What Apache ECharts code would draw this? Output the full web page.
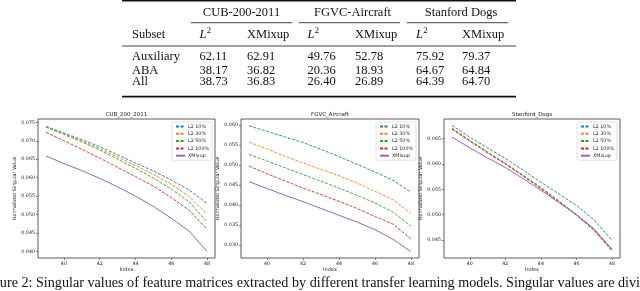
<!DOCTYPE html>
<html>
<head>
<meta charset="utf-8">
<script src="https://cdn.jsdelivr.net/npm/echarts@6/dist/echarts.min.js"></script>
<style>html,body{margin:0;padding:0;background:#fff}#c{width:640px;height:291px}</style>
</head>
<body>
<div id="c"></div>
<script>
// ---------- data ----------
const indexValues = [39, 40, 41, 42, 43, 44, 45, 46, 47, 48];
const seriesNames = ['L2 10%', 'L2 30%', 'L2 50%', 'L2 100%', 'XMixup'];
const chartTitles = ['CUB_200_2011', 'FGVC_Aircraft', 'Stanford_Dogs'];

const cubL2_10  = [0.0739, 0.0721, 0.0703, 0.0684, 0.0662, 0.0640, 0.0618, 0.0594, 0.0567, 0.0530];
const cubL2_30  = [0.0738, 0.0719, 0.0700, 0.0679, 0.0656, 0.0633, 0.0609, 0.0582, 0.0549, 0.0501];
const cubL2_50  = [0.0737, 0.0717, 0.0697, 0.0675, 0.0650, 0.0625, 0.0599, 0.0569, 0.0535, 0.0480];
const cubL2_100 = [0.0723, 0.0700, 0.0677, 0.0653, 0.0628, 0.0603, 0.0577, 0.0546, 0.0512, 0.0460];
const cubXMixup = [0.0659, 0.0638, 0.0619, 0.0598, 0.0575, 0.0550, 0.0522, 0.0490, 0.0455, 0.0400];

const fgvcL2_10  = [0.0598, 0.0584, 0.0570, 0.0556, 0.0539, 0.0521, 0.0502, 0.0482, 0.0462, 0.0432];
const fgvcL2_30  = [0.0557, 0.0540, 0.0522, 0.0505, 0.0489, 0.0473, 0.0455, 0.0434, 0.0413, 0.0379];
const fgvcL2_50  = [0.0526, 0.0510, 0.0493, 0.0476, 0.0459, 0.0442, 0.0424, 0.0405, 0.0382, 0.0347];
const fgvcL2_100 = [0.0497, 0.0478, 0.0460, 0.0442, 0.0426, 0.0409, 0.0391, 0.0371, 0.0352, 0.0315];
const fgvcXMixup = [0.0458, 0.0441, 0.0424, 0.0408, 0.0391, 0.0374, 0.0357, 0.0338, 0.0314, 0.0283];

const dogsL2_10  = [0.0676, 0.0653, 0.0632, 0.0611, 0.0588, 0.0564, 0.0541, 0.0518, 0.0489, 0.0449];
const dogsL2_30  = [0.0671, 0.0647, 0.0624, 0.0601, 0.0577, 0.0552, 0.0527, 0.0500, 0.0471, 0.0431];
const dogsL2_50  = [0.0670, 0.0646, 0.0623, 0.0601, 0.0578, 0.0554, 0.0527, 0.0499, 0.0470, 0.0430];
const dogsL2_100 = [0.0669, 0.0645, 0.0622, 0.0600, 0.0576, 0.0551, 0.0525, 0.0499, 0.0468, 0.0428];
const dogsXMixup = [0.0653, 0.0632, 0.0612, 0.0593, 0.0571, 0.0548, 0.0524, 0.0500, 0.0471, 0.0431];

const xTickValues = [40, 42, 44, 46, 48];
const cubYTicks  = [0.040, 0.045, 0.050, 0.055, 0.060, 0.065, 0.070, 0.075];
const fgvcYTicks = [0.030, 0.035, 0.040, 0.045, 0.050, 0.055, 0.060];
const dogsYTicks = [0.045, 0.050, 0.055, 0.060, 0.065];

// table
const tableDatasets = ['CUB-200-2011', 'FGVC-Aircraft', 'Stanford Dogs'];
const tableSubsets = ['Auxiliary', 'ABA', 'All'];
const tableValues = [
  ['62.11', '62.91', '49.76', '52.78', '75.92', '79.37'],
  ['38.17', '36.82', '20.36', '18.93', '64.67', '64.84'],
  ['38.73', '36.83', '26.40', '26.89', '64.39', '64.70']
];
const captionText = 'Figure 2: Singular values of feature matrices extracted by different transfer learning models. Singular values are divided by their sum.';

// ---------- layout ----------
const colors = ['#1f77b4', '#ff7f0e', '#2ca02c', '#d62728', '#9467bd'];
const grids = [
  {left: 38, top: 119, width: 177, height: 139},
  {left: 241, top: 119, width: 178, height: 139},
  {left: 444, top: 119, width: 176, height: 139}
];
const yRanges = [[0.0382, 0.0759], [0.0267, 0.0615], [0.0414, 0.0689]];
const allSeries = [
  [cubL2_10, cubL2_30, cubL2_50, cubL2_100, cubXMixup],
  [fgvcL2_10, fgvcL2_30, fgvcL2_50, fgvcL2_100, fgvcXMixup],
  [dogsL2_10, dogsL2_30, dogsL2_50, dogsL2_100, dogsXMixup]
];
const yTicks = [cubYTicks, fgvcYTicks, dogsYTicks];

const axisTextColor = '#222';
const chartFont = 'DejaVu Sans';

const option = {
  animation: false,
  backgroundColor: '#fff',
  grid: grids.map(g => Object.assign({show: true, borderColor: '#333', borderWidth: 0.8, backgroundColor: 'transparent'}, g)),
  title: chartTitles.map((t, i) => ({
    text: t,
    left: grids[i].left + grids[i].width / 2,
    top: 112,
    textAlign: 'center',
    padding: 0,
    textStyle: {fontSize: 5.5, fontWeight: 'normal', color: axisTextColor, fontFamily: chartFont}
  })),
  xAxis: grids.map((g, i) => ({
    type: 'value', gridIndex: i, min: 38.55, max: 48.45,
    name: 'Index', nameLocation: 'middle', nameGap: 9,
    nameTextStyle: {fontSize: 5, color: axisTextColor, fontFamily: chartFont},
    splitLine: {show: false},
    axisLine: {show: false},
    axisTick: {show: true, length: 2, inside: false, customValues: xTickValues, lineStyle: {color: '#333', width: 0.6}},
    axisLabel: {customValues: xTickValues, fontSize: 4.8, color: axisTextColor, margin: 3, fontFamily: chartFont}
  })),
  yAxis: grids.map((g, i) => ({
    type: 'value', gridIndex: i, min: yRanges[i][0], max: yRanges[i][1],
    name: 'Normalized Singular Value', nameLocation: 'middle', nameGap: 18,
    nameTextStyle: {fontSize: 4.8, color: axisTextColor, fontFamily: chartFont},
    splitLine: {show: false},
    axisLine: {show: false},
    axisTick: {show: true, length: 2, inside: false, customValues: yTicks[i], lineStyle: {color: '#333', width: 0.6}},
    axisLabel: {customValues: yTicks[i], fontSize: 4.8, color: axisTextColor, margin: 3, fontFamily: chartFont,
      formatter: v => v.toFixed(3)}
  })),
  legend: grids.map((g, i) => ({
    orient: 'vertical',
    right: 640 - (g.left + g.width) + 3,
    top: 122,
    itemWidth: 9, itemHeight: 5, itemGap: 2.3,
    padding: [2, 3, 2, 3],
    borderColor: '#ccc', borderWidth: 0.6, borderRadius: 1.5,
    backgroundColor: 'rgba(255,255,255,0.85)',
    itemStyle: {opacity: 0},
    textStyle: {fontSize: 4.8, color: axisTextColor, fontFamily: chartFont, padding: [0, 0, 0, -2]},
    data: seriesNames
  })),
  series: [],
  graphic: []
};

allSeries.forEach((group, ci) => {
  group.forEach((vals, si) => {
    option.series.push({
      type: 'line', name: seriesNames[si], xAxisIndex: ci, yAxisIndex: ci,
      symbol: 'none', silent: true,
      color: colors[si],
      lineStyle: {width: si === 4 ? 1 : 0.9, color: colors[si], type: si === 4 ? 'solid' : [3, 1.5]},
      data: indexValues.map((x, k) => [x, vals[k]])
    });
  });
});

// ---------- table (graphic) ----------
const serif = 'Liberation Serif';
const tFont = 12.5;
const tColor = '#111';
const g = option.graphic;
function txt(x, y, s, opts) {
  g.push({type: 'text', x: x, y: y, silent: true, style: Object.assign({
    text: s, fontFamily: serif, fontSize: tFont, fill: tColor, verticalAlign: 'middle', align: 'left'
  }, opts || {})});
}
function rule(x1, x2, y, w) {
  g.push({type: 'line', silent: true, shape: {x1: x1, y1: y, x2: x2, y2: y}, style: {stroke: '#111', lineWidth: w}});
}
const tLeft = 122, tRight = 516;
rule(tLeft, tRight, 0.7, 1.4);
rule(tLeft, tRight, 46, 0.8);
rule(tLeft, tRight, 96.6, 1.8);
const groupCenters = [241.5, 352.5, 461];
const groupSpans = [[191, 292], [299, 400], [407, 508]];
tableDatasets.forEach((d, i) => {
  txt(groupCenters[i], 12.7, d, {align: 'center'});
  rule(groupSpans[i][0], groupSpans[i][1], 22.7, 0.8);
});
const colX = [199.5, 247, 307.5, 355, 416, 462];
const rowY = [56.8, 71.2, 82];
txt(132, 34.3, 'Subset');
colX.forEach((x, k) => {
  if (k % 2 === 0) {
    txt(x, 34.3, 'L', {fontStyle: 'italic'});
    txt(x + 7.3, 30.5, '2', {fontSize: 8.5});
  } else {
    txt(x, 34.3, 'XMixup');
  }
});
tableSubsets.forEach((s, r) => {
  txt(132, rowY[r], s);
  tableValues[r].forEach((v, k) => txt(colX[k], rowY[r], v));
});
// caption
txt(-19, 283.5, captionText, {fontSize: 14.15});

const chart = echarts.init(document.getElementById('c'), null, {renderer: 'canvas'});
chart.setOption(option);
</script>
</body>
</html>
